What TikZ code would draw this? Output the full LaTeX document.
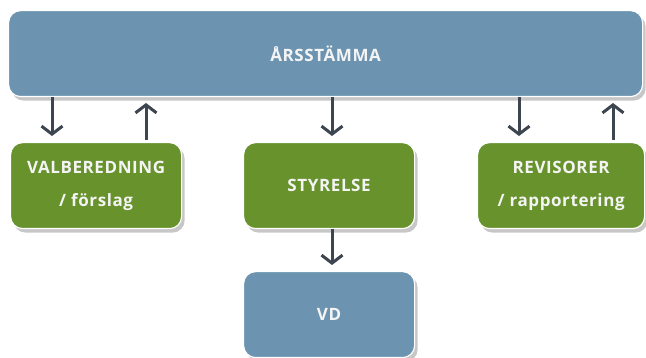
\documentclass[tikz,border=0pt]{standalone}
\usepackage{fontspec}
\setmainfont{Open Sans}
\usetikzlibrary{arrows.meta,shadows}
\definecolor{boxblue}{HTML}{6C94B1}
\definecolor{boxgreen}{HTML}{67922C}
\definecolor{arrowgray}{HTML}{3D4550}
\definecolor{txtwhite}{HTML}{F4F4F4}
\tikzset{
  box/.style={draw=white, line width=1.2pt, rounded corners=12pt, anchor=north west,
    text=txtwhite, font=\fontsize{17}{33}\selectfont\bfseries\addfontfeatures{LetterSpace=3.5},
    align=center, inner sep=0pt,
    drop shadow={shadow xshift=3pt, shadow yshift=-4pt, fill=black, opacity=0.22}},
  bluebox/.style={box, fill=boxblue},
  greenbox/.style={box, fill=boxgreen},
  flow/.style={draw=arrowgray, line width=3pt, -{Straight Barb[length=8pt, width=21pt, line width=3pt]}}
}
\begin{document}
\begin{tikzpicture}[x=1pt, y=-1pt]
\useasboundingbox (0,0) rectangle (646,358);
\node[bluebox, minimum width=634pt, minimum height=86pt] (ars) at (8,10) {ÅRSSTÄMMA};
\node[greenbox, minimum width=171pt, minimum height=86pt] (val) at (10,142) {VALBEREDNING\\/ förslag};
\node[greenbox, minimum width=171pt, minimum height=86pt] (sty) at (243,142) {STYRELSE};
\node[greenbox, minimum width=167pt, minimum height=86pt] (rev) at (477,142) {REVISORER\\/ rapportering};
\node[bluebox, minimum width=171pt, minimum height=86pt] (vd) at (243,271) {VD};
\coordinate (a1s) at (52,97); \coordinate (a1e) at (52,136);
\coordinate (a2s) at (146,140); \coordinate (a2e) at (146,103);
\coordinate (a3s) at (332,97); \coordinate (a3e) at (332,136);
\coordinate (a4s) at (519,97); \coordinate (a4e) at (519,136);
\coordinate (a5s) at (613,140); \coordinate (a5e) at (613,103);
\coordinate (a6s) at (332,229); \coordinate (a6e) at (332,265);
\draw[flow] (a1s) -- (a1e);
\draw[flow] (a2s) -- (a2e);
\draw[flow] (a3s) -- (a3e);
\draw[flow] (a4s) -- (a4e);
\draw[flow] (a5s) -- (a5e);
\draw[flow] (a6s) -- (a6e);
\end{tikzpicture}
\end{document}
